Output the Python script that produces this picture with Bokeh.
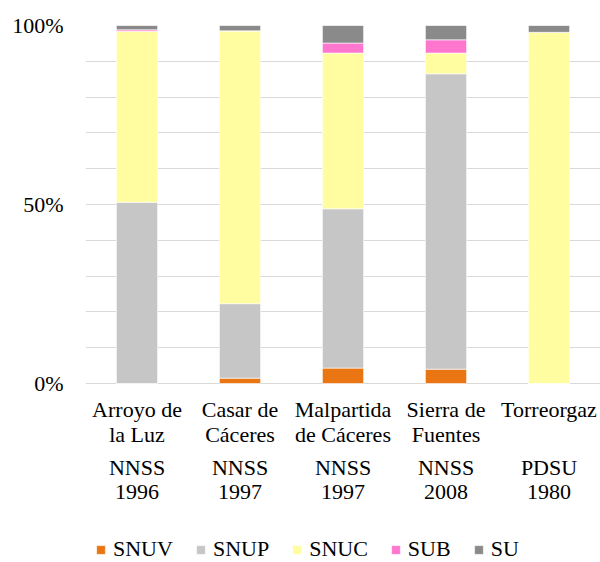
from bokeh.plotting import figure
from bokeh.models import (FactorRange, Range1d, FixedTicker, Label,
                          Legend, LegendItem, ColumnDataSource)
from bokeh.embed import file_html
from bokeh.resources import INLINE

# ---- data ----
municipios = ["Arroyo de la Luz", "Casar de Cáceres", "Malpartida de Cáceres",
              "Sierra de Fuentes", "Torreorgaz"]
etiquetas = ["Arroyo de\nla Luz", "Casar de\nCáceres", "Malpartida\nde Cáceres",
             "Sierra de\nFuentes", "Torreorgaz"]
planes = ["NNSS\n1996", "NNSS\n1997", "NNSS\n1997", "NNSS\n2008", "PDSU\n1980"]
series = ["SNUV", "SNUP", "SNUC", "SUB", "SU"]
SNUV = [0.0, 1.5, 4.3, 4.0, 0.0]
SNUP = [50.6, 20.8, 44.5, 82.5, 0.0]
SNUC = [47.8, 76.2, 43.5, 5.8, 98.1]
SUB = [0.4, 0.0, 2.8, 3.7, 0.0]
SU = [1.2, 1.5, 4.9, 4.0, 1.9]
colores = ["#E97612", "#C6C6C6", "#FFFDA0", "#FF76CF", "#8A8A8A"]
y_ticks = [0, 50, 100]
y_grid = [0, 10, 20, 30, 40, 50, 60, 70, 80, 90, 100]

FONT = "Liberation Serif"
FS = "22px"

source = ColumnDataSource(dict(x=municipios, SNUV=SNUV, SNUP=SNUP, SNUC=SNUC, SUB=SUB, SU=SU))

# the frame reaches down to the bottom so that labels and legend below 0% are not clipped
p = figure(x_range=FactorRange(factors=municipios, range_padding=0),
           y_range=Range1d(-50, 100),
           width=600, height=562,
           output_backend="svg", toolbar_location=None,
           min_border_left=85, min_border_top=25, min_border_right=0,
           min_border_bottom=0, x_axis_location=None)
p.outline_line_color = None

renderers = p.vbar_stack(series, x="x", width=0.4, source=source, color=colores,
                         line_color="white", line_width=0.6)

# grid
p.xgrid.grid_line_color = None
p.ygrid.ticker = FixedTicker(ticks=y_grid)
p.ygrid.grid_line_color = "#D9D9D9"
p.ygrid.grid_line_width = 1

# y axis
p.yaxis.ticker = FixedTicker(ticks=y_ticks)
p.yaxis.major_label_overrides = {0: "0%", 50: "50%", 100: "100%"}
p.yaxis.axis_line_color = None
p.yaxis.major_tick_line_color = None
p.yaxis.minor_tick_line_color = None
p.yaxis.major_label_standoff = 16
p.yaxis.major_label_text_font = FONT
p.yaxis.major_label_text_font_size = FS
p.yaxis.major_label_text_color = "black"

# category labels (two rows) below 0%; categorical factor i is centred at i + 0.5
for i, (et, pl) in enumerate(zip(etiquetas, planes)):
    for txt, yy in ((et, -3.9), (pl, -19.9)):
        p.add_layout(Label(x=i + 0.5, y=yy, text=txt, text_font=FONT, text_font_size=FS,
                           text_color="black", text_align="center",
                           text_baseline="top", text_line_height=0.97))

legend = Legend(items=[LegendItem(label=s, renderers=[r]) for s, r in zip(series, renderers)],
                orientation="horizontal", location=(10, 0))
legend.label_text_font = FONT
legend.label_text_font_size = FS
legend.label_text_color = "black"
legend.glyph_width = 11
legend.glyph_height = 11
legend.label_standoff = 7
legend.spacing = 22
legend.border_line_color = None
legend.background_fill_alpha = 0
legend.padding = 0
legend.margin = 0
p.add_layout(legend)

open("out.html", "w").write(file_html(p, INLINE))
